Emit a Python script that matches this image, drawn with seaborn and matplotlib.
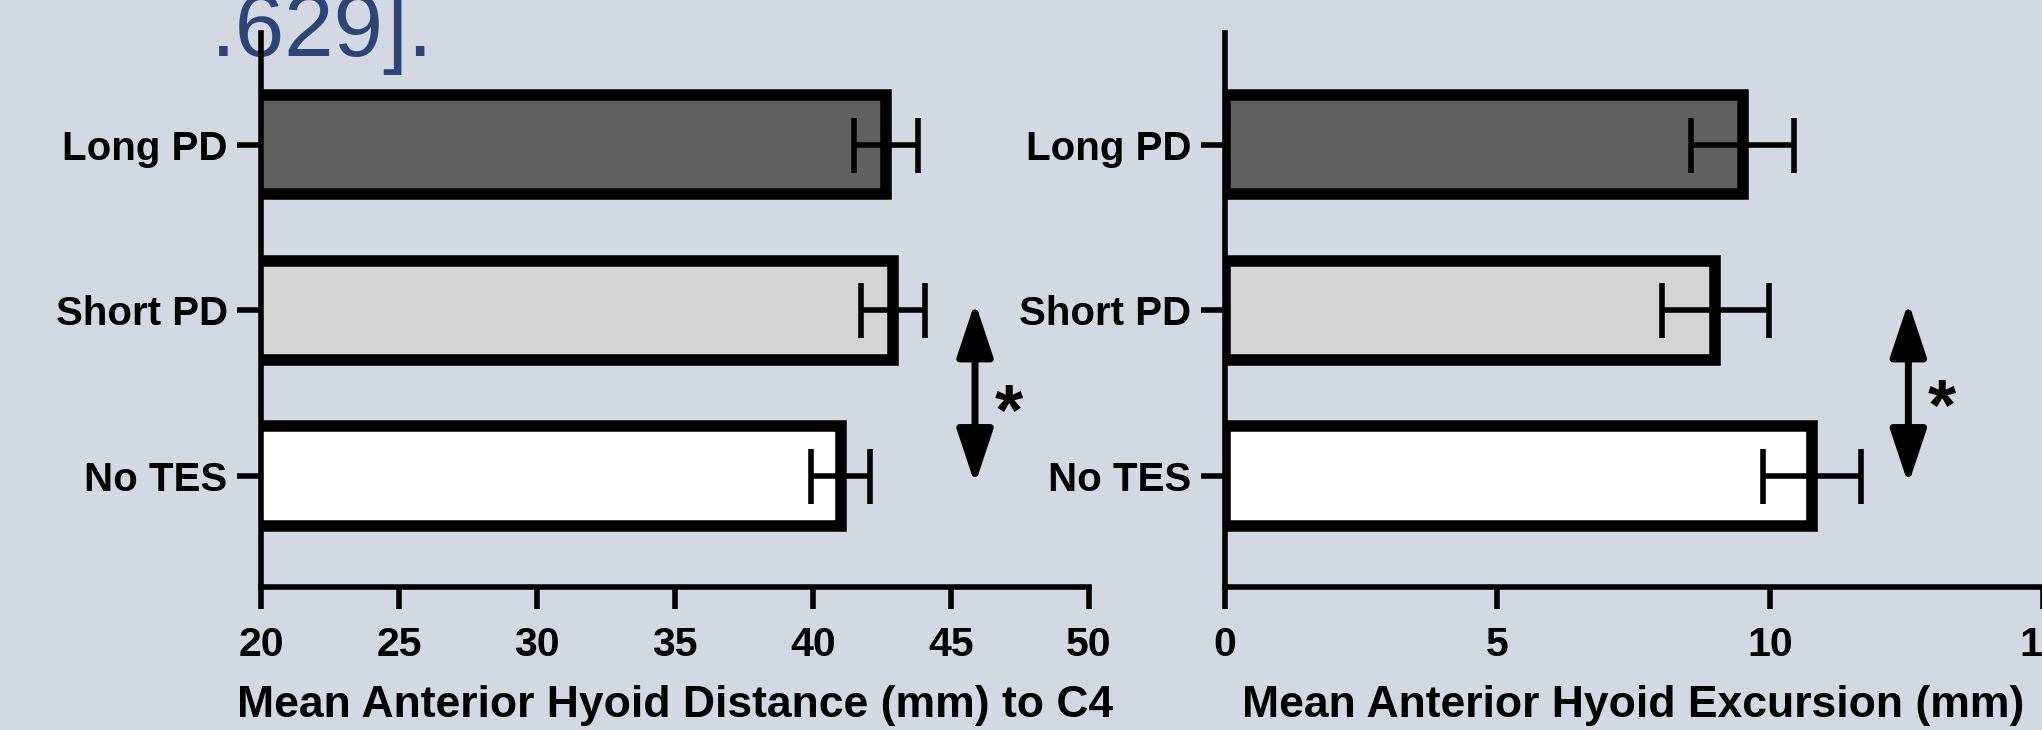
import numpy as np
import pandas as pd
import matplotlib
matplotlib.use("Agg")
import matplotlib.pyplot as plt
import seaborn as sns
from matplotlib.patches import FancyArrowPatch

# ---------------- data ----------------
groups = ["Long PD", "Short PD", "No TES"]
bar_colors = ["#616161", "#d4d4d4", "#ffffff"]

dist_mean = [42.65, 42.9, 41.0]
dist_err = [1.16, 1.15, 1.08]
dist_ticks = [20, 25, 30, 35, 40, 45, 50]
dist_label = "Mean Anterior Hyoid Distance (mm) to C4"

exc_mean = [9.5, 9.0, 10.78]
exc_err = [0.95, 0.98, 0.9]
exc_ticks = [0, 5, 10, 15]
exc_label = "Mean Anterior Hyoid Excursion (mm)"

caption = ".629]."
sig_star = "*"

# ---------------- style ----------------
BG = "#d3d8e3"
sns.set_theme(style="ticks")
plt.rcParams["font.family"] = ["Liberation Sans", "DejaVu Sans"]
plt.rcParams.update({
    "axes.edgecolor": "black",
    "axes.labelcolor": "black",
    "text.color": "black",
    "axes.linewidth": 4,
    "xtick.color": "black",
    "ytick.color": "black",
    "xtick.labelcolor": "black",
    "ytick.labelcolor": "black",
    "xtick.major.width": 4,
    "ytick.major.width": 4,
    "xtick.major.size": 16,
    "ytick.major.size": 17,
    "xtick.major.pad": 12,
    "ytick.major.pad": 7,
    "xtick.labelsize": 29.5,
    "ytick.labelsize": 29,
    "font.weight": "bold",
})

W, H = 2042, 730
fig = plt.figure(figsize=(W / 100, H / 100), dpi=100, facecolor=BG)

ax1 = fig.add_axes([261 / W, 143 / H, 828 / W, 554 / H])
ax2 = fig.add_axes([1224.5 / W, 143 / H, 818 / W, 554 / H])


def panel(ax, means, errs, ticks, label, arrow_x, star_x, star_y):
    df = pd.DataFrame({"group": groups, "value": means})
    sns.barplot(data=df, x="value", y="group", hue="group", palette=bar_colors,
                orient="h", width=0.6, edgecolor="black", linewidth=8.3,
                saturation=1, legend=False, ax=ax, zorder=2)
    ypos = np.arange(len(groups))
    ax.errorbar(means, ypos, xerr=errs, fmt="none", ecolor="black",
                elinewidth=4, capsize=19.8, capthick=4, zorder=5)
    ax.set_xlim(ticks[0], ticks[-1])
    ax.set_xticks(ticks)
    ax.set_ylim(2.67, -0.675)
    ax.set_ylabel("")
    ax.set_xlabel(label, fontsize=32, fontweight="bold", labelpad=15,
                  color="black")
    ax.patch.set_visible(False)
    sns.despine(ax=ax)
    for t in ax.get_xticklabels() + ax.get_yticklabels():
        t.set_fontweight("bold")
    arr = FancyArrowPatch((arrow_x, 0.95), (arrow_x, 2.05),
                          arrowstyle="<|-|>,head_length=33,head_width=11",
                          mutation_scale=1, lw=5, color="black",
                          shrinkA=0, shrinkB=0, transform=ax.transData,
                          clip_on=False, zorder=6)
    ax.add_patch(arr)
    ax.text(star_x, star_y, sig_star, fontsize=52, fontweight="bold",
            ha="center", va="center", color="black", clip_on=False)


panel(ax1, dist_mean, dist_err, dist_ticks, dist_label, 45.87, 47.1, 1.63)
panel(ax2, exc_mean, exc_err, exc_ticks, exc_label, 12.54, 13.15, 1.60)

fig.text(211 / W, (H - 56) / H, caption, fontsize=64, fontweight="normal",
         color="#2c4476", ha="left", va="baseline", zorder=-1)

fig.savefig("out.png", dpi=100, facecolor=BG)
